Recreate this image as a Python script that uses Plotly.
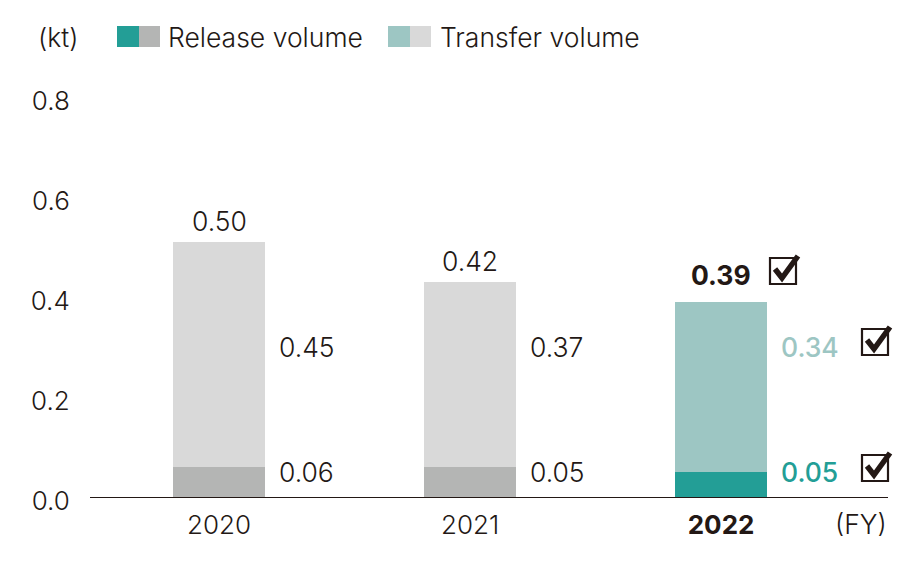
import plotly.graph_objects as go

# ---- data ----
years = ["2020", "2021", "2022"]
year_ticktext = ["2020", "2021", "<b>2022</b>"]
release_volume = [0.06, 0.06, 0.05]
transfer_volume = [0.45, 0.37, 0.34]
total_labels = ["0.50", "0.42", "0.39"]
release_labels = ["0.06", "0.05", "0.05"]
transfer_labels = ["0.45", "0.37", "0.34"]
y_ticks = [0.0, 0.2, 0.4, 0.6, 0.8]

# ---- styles ----
TEXT = "#231815"
FONT = "Inter, Liberation Sans, Arial, sans-serif"
FS = 26.5
release_colors = ["#B4B5B4", "#B4B5B4", "#239E96"]
transfer_colors = ["#D9D9D9", "#D9D9D9", "#9DC6C3"]
W, H = 922, 567
ML, MR, MT, MB = 90, 34, 97, 70
PW, PH = W - ML - MR, H - MT - MB

def px(x):
    return (x - ML) / PW

def py(y):
    return (H - MB - y) / PH

xs = list(range(len(years)))
total = [r + t for r, t in zip(release_volume, transfer_volume)]

fig = go.Figure()
fig.add_trace(go.Bar(x=xs, y=release_volume, marker=dict(color=release_colors, line_width=0),
                     width=0.367, name="Release volume", showlegend=False, hoverinfo="skip"))
fig.add_trace(go.Bar(x=xs, y=transfer_volume, marker=dict(color=transfer_colors, line_width=0),
                     width=0.367, name="Transfer volume", showlegend=False, hoverinfo="skip"))

def font(color=TEXT, weight=300, size=FS):
    return dict(size=size, color=color, family=FONT, weight=weight)

annotations = []
for i in xs:
    last = i == len(xs) - 1
    annotations.append(dict(
        x=i, y=total[i], xref="x", yref="y", text=total_labels[i],
        showarrow=False, yanchor="bottom", yshift=3 if not last else 9,
        font=font(TEXT, 700 if last else 300)))
    annotations.append(dict(
        x=i + 0.23, y=0.30, xref="x", yref="y", text=transfer_labels[i], showarrow=False,
        xanchor="left", yanchor="middle",
        font=font(transfer_colors[i] if last else TEXT, 500 if last else 300)))
    annotations.append(dict(
        x=i + 0.23, y=0.05, xref="x", yref="y", text=release_labels[i], showarrow=False,
        xanchor="left", yanchor="middle",
        font=font(release_colors[i] if last else TEXT, 500 if last else 300)))

annotations.append(dict(x=px(36), y=py(37), xref="paper", yref="paper", text="(kt)", showarrow=False,
                        xanchor="left", yanchor="middle", font=font()))
annotations.append(dict(x=px(889), y=py(524), xref="paper", yref="paper", text="(FY)", showarrow=False,
                        xanchor="right", yanchor="middle", font=font()))
annotations.append(dict(x=px(166), y=py(37), xref="paper", yref="paper", text="Release volume", showarrow=False,
                        xanchor="left", yanchor="middle", font=font()))
annotations.append(dict(x=px(438), y=py(37), xref="paper", yref="paper", text="Transfer volume", showarrow=False,
                        xanchor="left", yanchor="middle", font=font()))

shapes = []
def swatch(x0, x1, color):
    shapes.append(dict(type="rect", xref="paper", yref="paper", x0=px(x0), x1=px(x1),
                       y0=py(47), y1=py(26), fillcolor=color, line_width=0, layer="above"))
swatch(117, 139, release_colors[2]); swatch(139, 160, release_colors[0])
swatch(388, 410, transfer_colors[2]); swatch(410, 431, transfer_colors[0])

def checkbox(bx, by):
    shapes.append(dict(type="rect", xref="paper", yref="paper", x0=px(bx), x1=px(bx + 26),
                       y0=py(by + 26), y1=py(by), fillcolor="rgba(0,0,0,0)",
                       line=dict(color=TEXT, width=2.2), layer="above"))
    pts = [(bx + 5, by + 11), (bx + 12, by + 20), (bx + 28, by - 2)]
    path = "M %f,%f L %f,%f L %f,%f" % (px(pts[0][0]), py(pts[0][1]), px(pts[1][0]), py(pts[1][1]),
                                         px(pts[2][0]), py(pts[2][1]))
    shapes.append(dict(type="path", xref="paper", yref="paper", path=path,
                       line=dict(color=TEXT, width=5.5), layer="above"))

checkbox(770, 258)
checkbox(862, 329)
checkbox(862, 455)

fig.update_layout(
    width=W, height=H, margin=dict(l=ML, r=MR, t=MT, b=MB),
    paper_bgcolor="white", plot_bgcolor="white", barmode="stack", showlegend=False,
    font=dict(family=FONT, color=TEXT, size=FS, weight=300),
    annotations=annotations, shapes=shapes,
    xaxis=dict(range=[-0.514, 2.665], tickvals=xs, ticktext=year_ticktext, showgrid=False,
               zeroline=False, showline=True, linecolor=TEXT, linewidth=1.2,
               ticks="outside", ticklen=5, tickcolor="rgba(0,0,0,0)",
               tickfont=font(size=26)),
    yaxis=dict(range=[0, 0.8], tickvals=y_ticks, tickformat=".1f", showgrid=False, zeroline=False,
               showline=False, ticks="outside", ticklen=14, tickcolor="rgba(0,0,0,0)",
               ticklabelshift=4, tickfont=font(size=26)),
)

fig.write_html("out.html", config={"displayModeBar": False},
               post_script="document.body.style.margin='0';document.body.style.padding='0';")
